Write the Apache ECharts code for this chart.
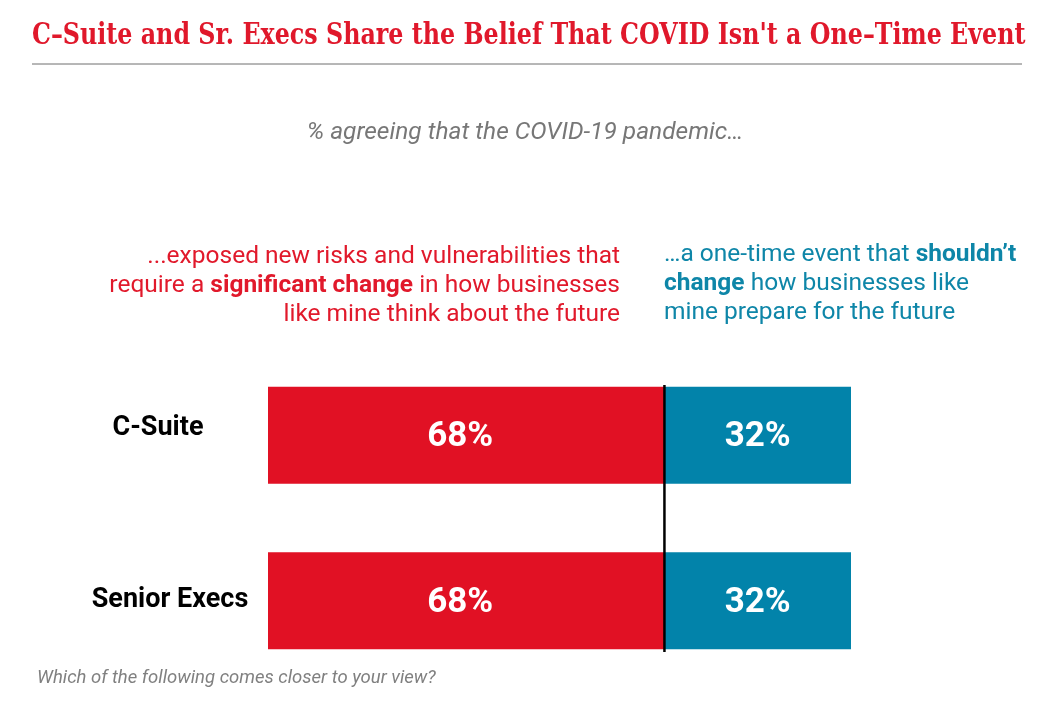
<!DOCTYPE html>
<html>
<head>
<meta charset="utf-8">
<script src="https://cdn.jsdelivr.net/npm/echarts@6/dist/echarts.min.js"></script>
<style>html,body{margin:0;padding:0;background:#fff}#c{width:1063px;height:703px}</style>
</head>
<body>
<div id="c"></div>
<script>
const categories = ['C-Suite', 'Senior Execs'];
const significantChange = [68, 68];
const oneTimeEvent = [32, 32];
const titleText = "C–Suite and Sr. Execs Share the Belief That COVID Isn't a One–Time Event";
const subtitleText = '% agreeing that the COVID-19 pandemic…';
const leftNote = '...exposed new risks and vulnerabilities that\nrequire a {b|significant change} in how businesses\nlike mine think about the future';
const rightNote = '…a one-time event that {b|shouldn’t}\n{b|change} how businesses like\nmine prepare for the future';
const footnote = 'Which of the following comes closer to your view?';

const RED = '#E11124', BLUE = '#0283AA';
const chart = echarts.init(document.getElementById('c'));
chart.setOption({
  backgroundColor: '#fff',
  animation: false,
  grid: [
    { left: 268, right: 212, top: 352.5, height: 331 },
    { left: 268, right: 212, top: 385, height: 267 }
  ],
  xAxis: [
    { type: 'value', min: 0, max: 100, show: false, gridIndex: 0 },
    { type: 'value', min: 0, max: 100, show: false, gridIndex: 1 }
  ],
  yAxis: [
    {
      type: 'category', data: categories, inverse: true, gridIndex: 0,
      axisLine: { show: false }, axisTick: { show: false },
      axisLabel: {
        margin: 104, align: 'center',
        formatter: (v, i) => i === 0 ? '{a|' + v + '}' : '{c|' + v + '}',
        rich: {
          a: { fontFamily: 'Roboto', fontWeight: 'bold', fontSize: 27, color: '#000', padding: [0, 12, 14, 0] },
          c: { fontFamily: 'Roboto', fontWeight: 'bold', fontSize: 27, color: '#000', padding: [0, 0, 2, 12] }
        }
      }
    },
    { type: 'value', min: 0, max: 1, show: false, gridIndex: 1 }
  ],
  series: [
    {
      type: 'bar', stack: 's', data: significantChange, barWidth: 97,
      itemStyle: { color: RED },
      label: { show: true, position: 'inside', formatter: '{c}%', color: '#fff', fontFamily: 'Roboto', fontWeight: 'bold', fontSize: 35, offset: [-6, 2] }
    },
    {
      type: 'bar', stack: 's', data: oneTimeEvent, barWidth: 97,
      itemStyle: { color: BLUE },
      label: { show: true, position: 'inside', formatter: '{c}%', color: '#fff', fontFamily: 'Roboto', fontWeight: 'bold', fontSize: 35, offset: [0, 2] }
    },
    {
      type: 'line', xAxisIndex: 1, yAxisIndex: 1, symbol: 'none',
      data: [[significantChange[0], 0], [significantChange[0], 1]],
      lineStyle: { color: '#000', width: 2.5 }, z: 5
    }
  ],
  graphic: [
    {
      type: 'text', x: 32, y: 36, scaleX: 0.82,
      style: { text: titleText, fontFamily: 'DejaVu Serif', fontWeight: 'bold', fontSize: 29, fill: '#E0182B', verticalAlign: 'middle' }
    },
    { type: 'line', shape: { x1: 32, y1: 64, x2: 1022, y2: 64 }, style: { stroke: '#6f6f6f', lineWidth: 1 } },
    {
      type: 'text', x: 525, y: 120,
      style: { text: subtitleText, align: 'center', verticalAlign: 'top', fontFamily: 'Roboto', fontStyle: 'italic', fontSize: 24.5, fill: '#777' }
    },
    {
      type: 'text', x: 620, y: 242.5,
      style: {
        text: leftNote, align: 'right', verticalAlign: 'top', fontFamily: 'Roboto', fontSize: 24.5, lineHeight: 29, fill: '#E1192B',
        rich: { b: { fontFamily: 'Roboto', fontWeight: 'bold', fontSize: 24.5, lineHeight: 29, fill: '#E1192B' } }
      }
    },
    {
      type: 'text', x: 664, y: 240.5,
      style: {
        text: rightNote, align: 'left', verticalAlign: 'top', fontFamily: 'Roboto', fontSize: 24.5, lineHeight: 29, fill: '#0E86A8',
        rich: { b: { fontFamily: 'Roboto', fontWeight: 'bold', fontSize: 24.5, lineHeight: 29, fill: '#0E86A8' } }
      }
    },
    {
      type: 'text', x: 37, y: 669,
      style: { text: footnote, fontFamily: 'Roboto', fontStyle: 'italic', fontSize: 18.5, fill: '#808080' }
    }
  ]
});
</script>
</body>
</html>
